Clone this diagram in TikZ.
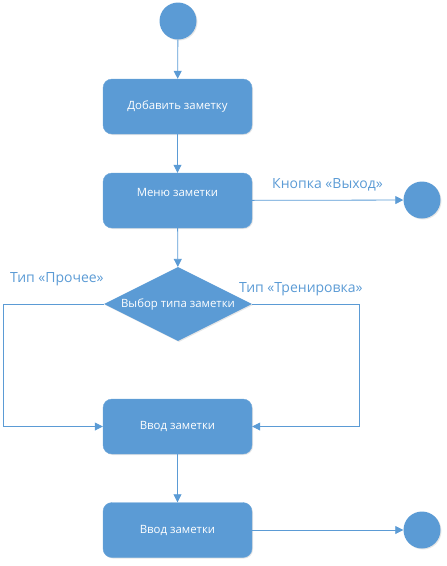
\documentclass[tikz,border=0pt]{standalone}
\usepackage{fontspec}
\setmainfont{Open Sans}
\usetikzlibrary{arrows.meta,shapes.geometric,shadows}
\definecolor{bl}{HTML}{5B9BD5}
\begin{document}
\begin{tikzpicture}[x=1pt,y=-1pt,
  act/.style={draw=bl!90!white,fill=bl,rounded corners=9pt,minimum width=149pt,minimum height=55pt,text=white,font=\fontsize{11.4}{13}\selectfont,inner sep=0pt,drop shadow={shadow xshift=1pt,shadow yshift=-1pt,opacity=0.2}},
  term/.style={circle,fill=bl,minimum size=37pt,inner sep=0pt,drop shadow={shadow xshift=1pt,shadow yshift=-1pt,opacity=0.2}},
  dec/.style={diamond,fill=bl,minimum width=148pt,minimum height=74pt,aspect=2,inner sep=0pt,drop shadow={shadow xshift=1pt,shadow yshift=-1pt,opacity=0.2}},
  intext/.style={text=white,font=\fontsize{11.4}{13}\selectfont,inner sep=0pt},
  conn/.style={draw=bl,line width=0.8pt,-{Triangle[length=8pt,width=8pt]}},
  lbl/.style={text=bl,font=\fontsize{14}{16}\selectfont,inner sep=0pt}]
\useasboundingbox (0,0) rectangle (447,566);
\node[term] (s) at (178,21) {};
\node[act] (b1) at (177.5,106.5) {Добавить заметку};
\node[act] (b2) at (177.5,200.5) {};
\node[intext] (t2) at (177.5,192) {Меню заметки};
\node[term] (e1) at (422,200) {};
\node[dec] (d) at (178,304) {};
\node[intext] (dt) at (178,304) {Выбор типа заметки};
\node[act] (b3) at (177.5,426.5) {Ввод заметки};
\node[act] (b4) at (177.5,530) {Ввод заметки};
\node[term] (e2) at (422,530) {};
\coordinate (l1) at (3,304);
\coordinate (l2) at (3,426.5);
\coordinate (r1) at (359,304);
\coordinate (r2) at (359,426.5);
\draw[conn] (s) -- (b1);
\draw[conn] (b1) -- (b2);
\draw[conn] (b2) -- (e1);
\draw[conn] (b2) -- (d);
\draw[conn] (d.west) -- (l1) -- (l2) -- (b3.west);
\draw[conn] (d.east) -- (r1) -- (r2) -- (b3.east);
\draw[conn] (b3) -- (b4);
\draw[conn] (b4) -- (e2);
\node[lbl,anchor=west] (k) at (272,185) {Кнопка «Выход»};
\node[lbl,anchor=west] (p) at (10,279) {Тип «Прочее»};
\node[lbl,anchor=west] (tr) at (239,289) {Тип «Тренировка»};
\end{tikzpicture}
\end{document}
